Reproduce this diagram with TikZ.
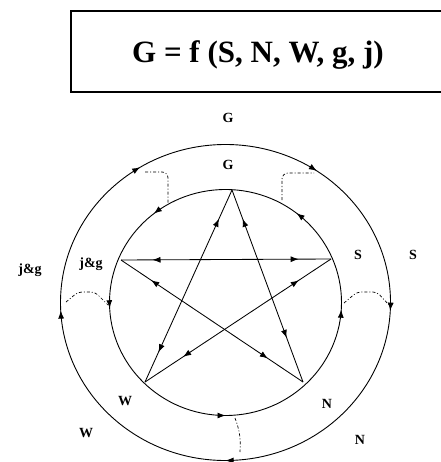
\documentclass[tikz,border=0pt]{standalone}
\usepackage{fontspec}
\setmainfont{Liberation Serif}
\usetikzlibrary{arrows.meta,decorations.markings}
\tikzset{
  ring/.style={draw=black,line width=0.9pt},
  starline/.style={draw=black,line width=0.85pt},
  link/.style={draw=black,line width=0.7pt,dash pattern=on 3pt off 2pt on 1pt off 2pt},
  lbl/.style={font=\bfseries\fontsize{14}{16}\selectfont,anchor=base,inner sep=0pt},
  fwd/.style={postaction={decorate,decoration={markings,mark=at position #1 with {\arrow{Latex[length=8pt,width=6pt]}}}}},
  bwd/.style={postaction={decorate,decoration={markings,mark=at position #1 with {\arrowreversed{Latex[length=8pt,width=6pt]}}}}},
}
\begin{document}
\begin{tikzpicture}[x=1pt,y=1pt]
\useasboundingbox (0,0) rectangle (440,-462);
% title box
\draw[line width=1.4pt] (441,-11) -- (71,-11) -- (71,-92) -- (441,-92);
\node[font=\bfseries\fontsize{31}{36}\selectfont,anchor=base,inner sep=0pt] (title) at (258,-63) {G = f (S, N, W, g, j)};
% circles
\coordinate (c) at (225.5,-302.5);
\path[ring,fwd=0.144,fwd=0.357,fwd=0.508,fwd=0.75,fwd=0.99] (c) ellipse [x radius=116, y radius=113];
\path[ring,bwd=0.155,bwd=0.338,bwd=0.508,bwd=0.75,bwd=0.992] (c) ellipse [x radius=165, y radius=158];
% star vertices
\coordinate (top) at (232,-190);
\coordinate (jg) at (121,-260);
\coordinate (s) at (331,-259);
\coordinate (w) at (145,-382);
\coordinate (n) at (303,-382);
\path[starline,bwd=0.15,fwd=0.845] (top) -- (w);
\path[starline,bwd=0.15,fwd=0.77] (top) -- (n);
\path[starline,bwd=0.15,fwd=0.846] (jg) -- (s);
\path[starline,bwd=0.166,fwd=0.807] (jg) -- (n);
\path[starline,bwd=0.173,fwd=0.795] (s) -- (w);
% dash-dot links between rings
\coordinate (tlo) at (145,-172);
\coordinate (tli) at (168,-204);
\coordinate (tro) at (314,-173);
\coordinate (tri) at (282,-200);
\coordinate (lo) at (66,-302);
\coordinate (li) at (108,-305);
\coordinate (ri) at (344,-303);
\coordinate (ro) at (389,-305);
\coordinate (bi) at (235,-418);
\coordinate (bo) at (240,-452);
\draw[link,rounded corners=6pt] (tlo) -| (tli);
\draw[link,rounded corners=6pt] (tri) |- (tro);
\draw[link,rounded corners=4pt] (lo) -- (78,-292) -- (95,-292) -- (li);
\draw[link,rounded corners=4pt] (ri) -- (357,-292) -- (377,-292) -- (ro);
\draw[link] (bi) to[bend left=12] (bo);
% labels
\node[lbl] (gout) at (228,-123) {G};
\node[lbl] (gin) at (228,-170) {G};
\node[lbl] (jgout) at (30,-273) {j\&g};
\node[lbl] (jgin) at (91,-267) {j\&g};
\node[lbl] (sin) at (358,-259) {S};
\node[lbl] (sout) at (413,-259) {S};
\node[lbl] (nin) at (327,-408) {N};
\node[lbl] (nout) at (360,-444) {N};
\node[lbl] (win) at (125,-405) {W};
\node[lbl] (wout) at (86,-437) {W};
\end{tikzpicture}
\end{document}
